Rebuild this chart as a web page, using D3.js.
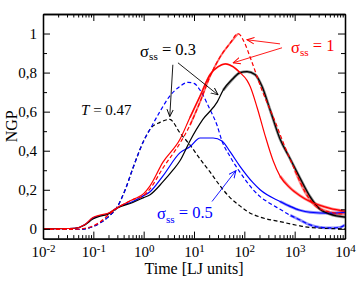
<!DOCTYPE html>
<html>
<head>
<meta charset="utf-8">
<script src="https://cdn.jsdelivr.net/npm/d3@7"></script>
<style>
    body { margin: 0; background: #fff; }
</style>
</head>
<body>
<svg id="sketchbook"></svg>
<script>
// NGP vs time, log x
const xTicks = [1e-2, 1e-1, 1e0, 1e1, 1e2, 1e3, 1e4];
const xTickExp = ['-2', '-1', '0', '1', '2', '3', '4'];
const yTicks = [0, 0.2, 0.4, 0.6, 0.8, 1];
const yTickLabels = ['0', '0,2', '0,4', '0,6', '0,8', '1'];

// [time, NGP]
const blackSolid = [[0.01,0],[0.043,0.003],[0.068,0.02],[0.098,0.05],[0.136,0.065],[0.196,0.075],[0.295,0.105],[0.61,0.135],[1,0.16],[1.34,0.175],[2.4,0.24],[3.8,0.30],[5.3,0.35],[8.3,0.45],[15,0.56],[29,0.65],[38,0.71],[60,0.77],[82,0.80],[113,0.805],[163,0.79],[224,0.73],[324,0.61],[512,0.46],[809,0.36],[1277,0.26],[2020,0.165],[3190,0.10],[5040,0.075],[10000,0.06]];
const blackDashed = [[0.01,-0.003],[0.05,-0.003],[0.068,0],[0.098,0.012],[0.136,0.03],[0.196,0.06],[0.295,0.11],[0.43,0.2],[0.61,0.31],[1,0.45],[1.34,0.51],[2.1,0.545],[3.3,0.56],[5.3,0.49],[8.3,0.43],[13,0.36],[21,0.29],[33,0.22],[52,0.16],[75,0.125],[113,0.09],[206,0.06],[512,0.037],[1277,0.015],[2020,0.007],[10000,0]];
const redSolid = [[0.01,0],[0.043,0.003],[0.068,0.022],[0.098,0.058],[0.136,0.07],[0.196,0.08],[0.295,0.108],[0.61,0.15],[1,0.18],[1.34,0.22],[2.4,0.34],[5.3,0.46],[8.3,0.57],[13.2,0.68],[20.8,0.79],[30,0.83],[42,0.845],[60,0.83],[82,0.80],[113,0.76],[130,0.73],[180,0.62],[257,0.48],[372,0.35],[512,0.27],[809,0.21],[1277,0.17],[2020,0.14],[3190,0.12],[5040,0.105],[10000,0.09]];
const redDashed = [[0.01,-0.003],[0.05,-0.002],[0.068,0.003],[0.098,0.015],[0.136,0.035],[0.196,0.07],[0.295,0.105],[0.61,0.15],[1,0.17],[1.34,0.205],[2.4,0.31],[5.3,0.44],[8.3,0.53],[13.2,0.65],[20.8,0.78],[33,0.88],[52,0.95],[75,1.0],[102,0.95],[130,0.88],[224,0.71],[408,0.55],[640,0.42],[1010,0.30],[1600,0.19],[2530,0.12],[5040,0.085],[10000,0.075]];
const blueSolid = [[0.01,0],[0.043,0.003],[0.068,0.022],[0.098,0.055],[0.136,0.068],[0.196,0.078],[0.295,0.108],[0.61,0.14],[1,0.17],[1.34,0.19],[2.4,0.27],[5.3,0.39],[8.3,0.42],[13.2,0.465],[24,0.465],[36,0.45],[52,0.395],[82,0.32],[150,0.235],[206,0.2],[512,0.14],[809,0.115],[1277,0.095],[2020,0.085],[5040,0.08],[10000,0.085]];
const blueDashed = [[0.01,-0.003],[0.05,-0.003],[0.068,0],[0.098,0.012],[0.136,0.03],[0.196,0.06],[0.295,0.11],[0.43,0.2],[0.61,0.31],[1,0.45],[1.34,0.51],[2.1,0.60],[3.3,0.68],[5.3,0.73],[7.6,0.75],[10,0.745],[13.2,0.71],[20,0.62],[28.7,0.53],[36,0.45],[52,0.37],[82,0.29],[150,0.2],[206,0.165],[324,0.13],[512,0.10],[809,0.07],[1277,0.045],[2020,0.02],[3190,0.008],[5040,0.005],[8000,0.008],[10000,0.02]];

const W = 357, H = 288;
const margin = { top: 14, right: 12, bottom: 49.4, left: 43 };
const FONT = '"Liberation Serif"';

const svg = d3.select('#sketchbook').attr('width', W).attr('height', H);

const x = d3.scaleLog().domain([1e-2, 1e4]).range([margin.left, W - margin.right]);
const y = d3.scaleLinear().domain([-0.05, 1.1]).range([H - margin.bottom, margin.top]);

// minor ticks for the log axis
let xMinor = [];
for (let e = -2; e < 4; e++)
    for (let k = 2; k < 10; k++)
        xMinor.push(k * Math.pow(10, e));
const yMinor = d3.range(0, 1.11, 0.1).filter(v => Math.abs(v * 5 - Math.round(v * 5)) > 1e-6);

/* ---- curves ---- */
// the simulated data get noisy at long times: drawn as a wider band from "noisy" on
const line = d3.line().x(d => x(d[0])).y(d => y(d[1])).curve(d3.curveMonotoneX);
const series = [
    { data: blackDashed, color: '#000', dash: '4,2.5', noisy: null },
    { data: blueDashed,  color: '#0000ff', dash: '4,2.5', noisy: 600 },
    { data: blueSolid,   color: '#0000ff', dash: null, noisy: 400 },
    { data: blackSolid,  color: '#000', dash: null, noisy: 30 },
    { data: redDashed,   color: '#ff0000', dash: '4,2.5', noisy: 1000 },
    { data: redSolid,    color: '#ff0000', dash: null, noisy: 400 },
];
const curves = svg.append('g');
curves.selectAll('path.band')
    .data(series.filter(s => s.noisy))
    .enter()
    .append('path')
    .attr('class', 'band')
    .attr('d', d => line(d.data.filter(p => p[0] >= d.noisy)))
    .attr('fill', 'none')
    .attr('stroke', d => d.color)
    .attr('stroke-width', 2.8)
    .attr('stroke-opacity', 0.45);
curves.selectAll('path.curve')
    .data(series)
    .enter()
    .append('path')
    .attr('class', 'curve')
    .attr('d', d => line(d.data))
    .attr('fill', 'none')
    .attr('stroke', d => d.color)
    .attr('stroke-width', 1.2)
    .attr('stroke-dasharray', d => d.dash);
// the red curves are also rough around their maxima
curves.selectAll('path.peak')
    .data([redDashed, redSolid])
    .enter()
    .append('path')
    .attr('class', 'peak')
    .attr('d', d => line(d.filter(p => p[0] >= 8 && p[0] <= 90)))
    .attr('fill', 'none')
    .attr('stroke', '#ff0000')
    .attr('stroke-width', 1.8)
    .attr('stroke-opacity', 0.6);

/* ---- axes (ticks inward on all four sides) ---- */
const frameW = 1.3;
function styleAxis(g) {
    g.attr('font-family', null);
    g.selectAll('path.domain').attr('stroke', '#000').attr('stroke-width', frameW);
    g.selectAll('.tick line').attr('stroke', '#000').attr('stroke-width', 1);
}
const bottom = svg.append('g').attr('transform', `translate(0,${H - margin.bottom})`)
    .call(d3.axisBottom(x).tickValues(xTicks).tickSizeInner(-7).tickSizeOuter(0).tickPadding(8).tickFormat(() => '10'))
    .call(styleAxis);
bottom.selectAll('.tick text')
    .attr('font-size', 15)
    .attr('fill', '#000')
    .append('tspan')
    .attr('dy', '-0.45em')
    .attr('font-size', 11)
    .text((d, i) => xTickExp[i]);
svg.append('g').attr('transform', `translate(0,${H - margin.bottom})`)
    .call(d3.axisBottom(x).tickValues(xMinor).tickSizeInner(-3.5).tickSizeOuter(0).tickFormat(''))
    .call(styleAxis);
svg.append('g').attr('transform', `translate(0,${margin.top})`)
    .call(d3.axisTop(x).tickValues(xTicks).tickSizeInner(-7).tickSizeOuter(0).tickFormat(''))
    .call(styleAxis);
svg.append('g').attr('transform', `translate(0,${margin.top})`)
    .call(d3.axisTop(x).tickValues(xMinor).tickSizeInner(-3.5).tickSizeOuter(0).tickFormat(''))
    .call(styleAxis);

const left = svg.append('g').attr('transform', `translate(${margin.left},0)`)
    .call(d3.axisLeft(y).tickValues(yTicks).tickSizeInner(-7).tickSizeOuter(0).tickPadding(6).tickFormat((d, i) => yTickLabels[i]))
    .call(styleAxis);
left.selectAll('.tick text')
    .attr('font-size', 15)
    .attr('fill', '#000');
svg.append('g').attr('transform', `translate(${margin.left},0)`)
    .call(d3.axisLeft(y).tickValues(yMinor).tickSizeInner(-4).tickSizeOuter(0).tickFormat(''))
    .call(styleAxis);
svg.append('g').attr('transform', `translate(${W - margin.right},0)`)
    .call(d3.axisRight(y).tickValues(yTicks).tickSizeInner(-7).tickSizeOuter(0).tickFormat(''))
    .call(styleAxis);
svg.append('g').attr('transform', `translate(${W - margin.right},0)`)
    .call(d3.axisRight(y).tickValues(yMinor).tickSizeInner(-4).tickSizeOuter(0).tickFormat(''))
    .call(styleAxis);

/* ---- axis titles ---- */
svg.append('text')
    .attr('x', (margin.left + W - margin.right) / 2)
    .attr('y', 274)
    .attr('text-anchor', 'middle')
    .attr('font-size', 16)
    .text('Time [LJ units]');
svg.append('text')
    .attr('transform', `translate(17,${(margin.top + H - margin.bottom) / 2}) rotate(-90)`)
    .attr('text-anchor', 'middle')
    .attr('font-size', 16)
    .text('NGP');

/* ---- annotations ---- */
const defs = svg.append('defs');
['#000', '#ff0000', '#0000ff'].forEach((c, i) => {
    defs.append('marker')
        .attr('id', 'arrow' + i)
        .attr('viewBox', '0 0 10 10')
        .attr('refX', 9).attr('refY', 5)
        .attr('markerWidth', 8).attr('markerHeight', 8)
        .attr('markerUnits', 'userSpaceOnUse')
        .attr('orient', 'auto')
        .append('path')
        .attr('d', 'M0,1 L9,5 L0,9')
        .attr('fill', 'none')
        .attr('stroke', c)
        .attr('stroke-width', 1.2);
});

const arrows = [
    { from: [3.8, 0.84], to: [3.3, 0.575], m: 0, color: '#000' },
    { from: [4.8, 0.85], to: [30, 0.686], m: 0, color: '#000' },
    { from: [512, 0.947], to: [113, 0.968], m: 1, color: '#ff0000' },
    { from: [561, 0.927], to: [60, 0.85], m: 1, color: '#ff0000' },
    { from: [22.8, 0.14], to: [68, 0.298], m: 2, color: '#0000ff' },
];
svg.append('g').selectAll('line')
    .data(arrows)
    .enter()
    .append('line')
    .attr('x1', d => x(d.from[0])).attr('y1', d => y(d.from[1]))
    .attr('x2', d => x(d.to[0])).attr('y2', d => y(d.to[1]))
    .attr('stroke', d => d.color)
    .attr('stroke-width', 0.9)
    .attr('marker-end', d => `url(#arrow${d.m})`);

function sigmaLabel(t, v, value, color, size) {
    let txt = svg.append('text')
        .attr('x', x(t)).attr('y', y(v))
        .attr('font-size', size)
        .attr('fill', color);
    txt.append('tspan').text('σ');
    txt.append('tspan').attr('font-size', size * 0.68).attr('dy', '0.3em').text('ss');
    txt.append('tspan').attr('dy', '-0.3em').text(' = ' + value);
}
sigmaLabel(0.85, 0.88, '0.3', '#000', 16.5);
sigmaLabel(845, 0.9, '1', '#ff0000', 16.5);
sigmaLabel(1.84, 0.048, '0.5', '#0000ff', 16.5);

let tlab = svg.append('text')
    .attr('x', x(0.057)).attr('y', y(0.584))
    .attr('font-size', 15);
tlab.append('tspan').attr('font-style', 'italic').text('T');
tlab.append('tspan').text(' = 0.47');

// font set on every text, quoted
svg.selectAll('text, tspan')
    .attr('font-family', FONT)
    .style('font-family', FONT);
</script>
</body>
</html>
